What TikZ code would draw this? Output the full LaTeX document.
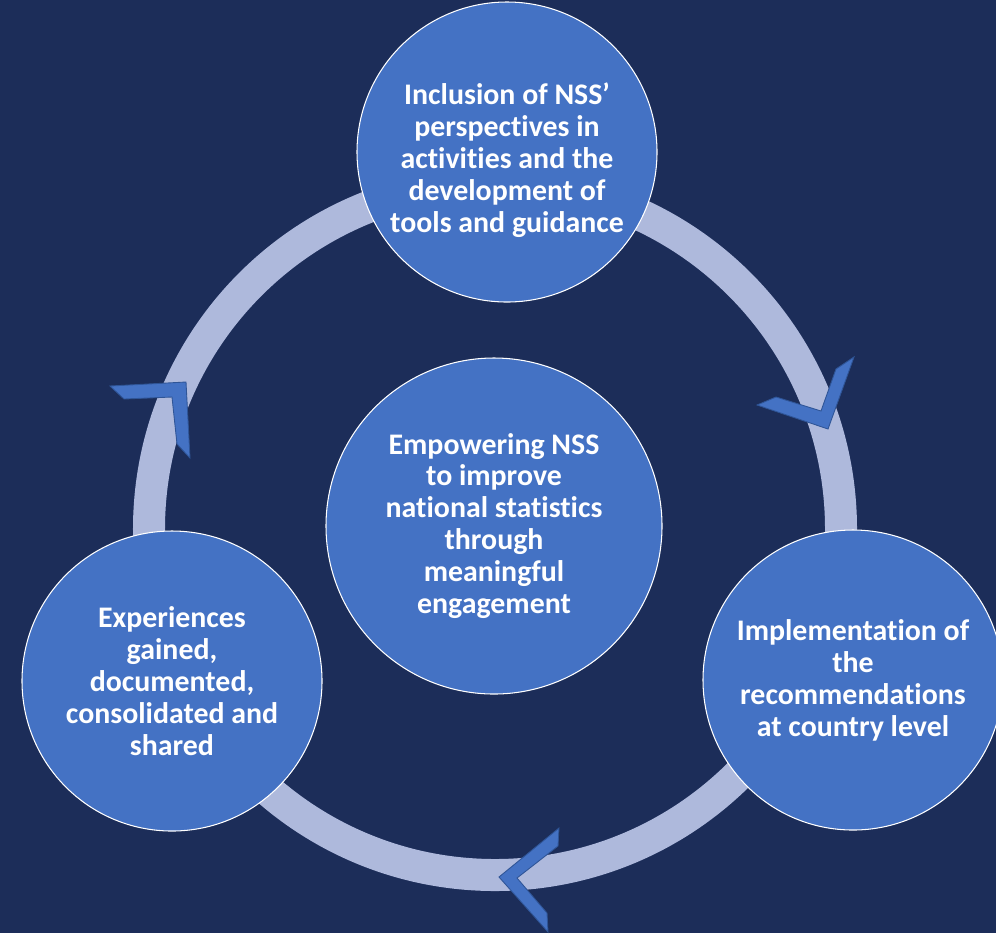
\documentclass[tikz,border=0pt]{standalone}
\usepackage{fontspec}
\setmainfont{Carlito}[Ligatures=NoCommon]
\definecolor{navy}{RGB}{28,45,89}
\definecolor{stepblue}{RGB}{68,114,196}
\definecolor{ringblue}{RGB}{174,185,220}
\definecolor{edgeblue}{RGB}{47,85,151}
\tikzset{
  phase/.style={circle,draw=white,line width=0.6pt,fill=stepblue,minimum size=6cm,inner sep=0pt,
    text=white,align=center,font=\bfseries\fontsize{17}{18.2}\selectfont},
  ring/.style={draw=ringblue,line width=0.64cm},
  chevron/.style={fill=stepblue,draw=edgeblue,line width=0.5pt,line join=miter}
}
\begin{document}
\begin{tikzpicture}[x=0.2mm,y=-0.2mm]
	\fill[navy] (0,0) rectangle (996,933);
	\useasboundingbox (0,0) rectangle (996,933);
	\clip (0,0) rectangle (996,933);
	%\draw[step=50,very thin,color=gray] (0,0) grid (996,933);
	\coordinate (hub) at (495,529);
	\draw[ring] (hub) circle[radius=6.92cm];
	% arrow heads on the ring
	\filldraw[chevron] (757,405) -- (828,429) -- (854,357) -- (836,369) -- (821,411) -- (776,397) -- cycle;
	\filldraw[chevron] (559,828) -- (499,877) -- (548,932) -- (547,913) -- (517,878) -- (558,846) -- cycle;
	\filldraw[chevron] (110,386) -- (186,382) -- (190,458) -- (177,444) -- (172,397) -- (124,399) -- cycle;
	% stages
	\node[phase] (inclusion) at (507,152) {\rule{0pt}{22pt}Inclusion of NSS’\\perspectives in\\activities and the\\development of\\tools and guidance};
	\node[phase,minimum size=6.72cm] (goal) at (494,526) {Empowering NSS\\to improve\\national statistics\\through\\meaningful\\engagement};
	\node[phase] (implement) at (853,680) {Implementation of\\the\\recommendations\\at country level};
	\node[phase] (experience) at (172,681) {Experiences\\gained,\\documented,\\consolidated and\\shared};
\end{tikzpicture}
\end{document}
